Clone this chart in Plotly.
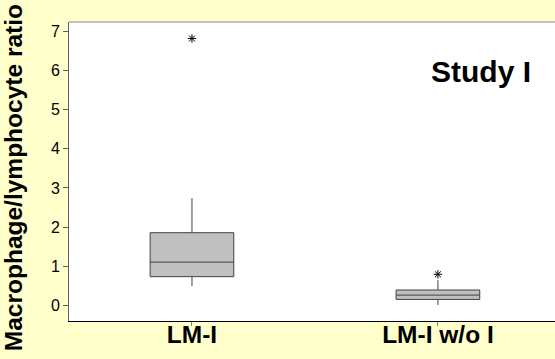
import plotly.graph_objects as go

# Group labels and five-number summaries of the macrophage/lymphocyte ratio
groups = ["LM-I", "LM-I w/o I"]
lower_whisker = [0.50, 0.02]
q1 = [0.74, 0.16]
median = [1.11, 0.27]
q3 = [1.86, 0.40]
upper_whisker = [2.74, 0.65]

# Outlying observations (plotted as asterisks)
outlier_group = ["LM-I", "LM-I w/o I"]
outlier_value = [6.81, 0.80]

y_ticks = [0, 1, 2, 3, 4, 5, 6, 7]

FONT = "Liberation Sans, Arial, sans-serif"

fig = go.Figure()

fig.add_trace(go.Box(
    x=groups,
    q1=q1,
    median=median,
    q3=q3,
    lowerfence=lower_whisker,
    upperfence=upper_whisker,
    boxpoints=False,
    width=0.34,
    whiskerwidth=0,
    fillcolor="#C0C0C0",
    line=dict(color="#404040", width=1),
    showlegend=False,
    hoverinfo="skip",
))

fig.add_trace(go.Scatter(
    x=outlier_group,
    y=outlier_value,
    mode="markers",
    marker=dict(symbol="asterisk-open", size=7, color="#000000",
                line=dict(color="#000000", width=1)),
    showlegend=False,
    hoverinfo="skip",
))

fig.add_annotation(
    x=0.848, y=0.836, xref="paper", yref="paper",
    xanchor="center", yanchor="middle",
    text="<b>Study I</b>", showarrow=False,
    font=dict(family=FONT, size=30, color="#000000"),
)

# Vertical axis title, placed as rotated text left of the tick labels
fig.add_annotation(
    x=-0.115, y=0.478, xref="paper", yref="paper",
    xanchor="center", yanchor="middle", textangle=-90,
    text="<b>Macrophage/lymphocyte ratio</b>", showarrow=False,
    font=dict(family=FONT, size=24.5, color="#000000"),
)

# Thin grey frame line along the top of the plotting area
fig.add_shape(type="line", xref="paper", yref="paper",
              x0=0, x1=1, y0=1, y1=1,
              line=dict(color="#8a8a8a", width=1))

fig.update_layout(
    width=555, height=359,
    margin=dict(l=69, r=0, t=22, b=38, pad=0),
    paper_bgcolor="#FFFFCC",
    plot_bgcolor="#FFFFFF",
    font=dict(family=FONT, color="#000000"),
)

fig.update_xaxes(
    type="category",
    categoryorder="array", categoryarray=groups,
    range=[-0.5, 1.476],
    showline=True, linecolor="#000000", linewidth=1.3,
    ticks="outside", ticklen=4, tickcolor="#808080", tickwidth=1,
    tickfont=dict(size=24.5, family=FONT),
    ticklabelstandoff=-13,
    tickvals=groups,
    ticktext=["<b>" + g + "</b>" for g in groups],
    showgrid=False, zeroline=False,
)

fig.update_yaxes(
    range=[-0.39, 7.23],
    tickvals=y_ticks,
    showline=True, linecolor="#606060", linewidth=1,
    ticks="outside", ticklen=5, tickcolor="#606060", tickwidth=1,
    tickfont=dict(size=16, family="Liberation Sans Narrow, Liberation Sans, Arial, sans-serif"),
    showgrid=False, zeroline=False,
)

fig.write_html("out.html")
